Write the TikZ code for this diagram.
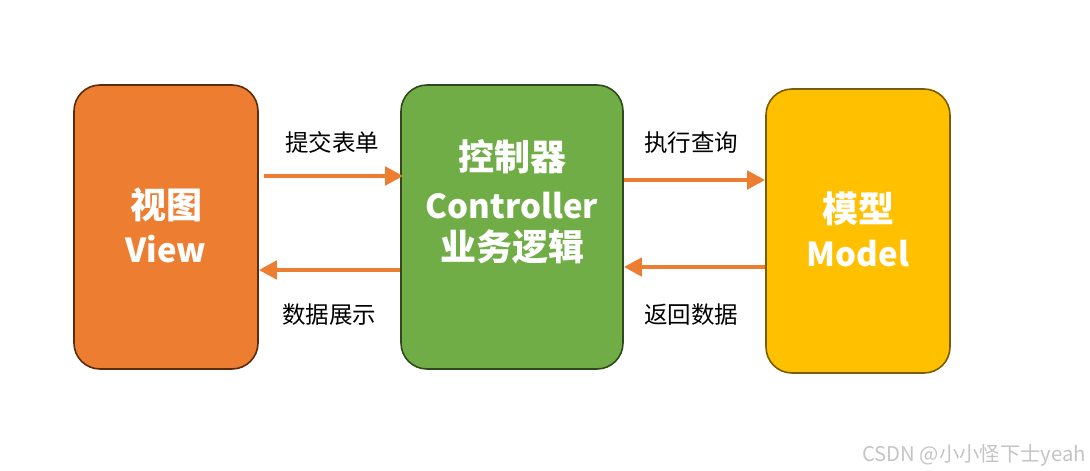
\documentclass[tikz,border=0pt]{standalone}
\usepackage{fontspec}
\setmainfont{Noto Sans CJK SC}
\usetikzlibrary{arrows.meta}
\definecolor{vfill}{HTML}{ED7D31}
\definecolor{vline}{HTML}{5B2C0C}
\definecolor{cfill}{HTML}{70AD47}
\definecolor{cline}{HTML}{2E4A1C}
\definecolor{mfill}{HTML}{FFC000}
\definecolor{mline}{HTML}{7A5C00}
\definecolor{arrc}{HTML}{ED7D31}
\definecolor{wm}{HTML}{C4C4C4}
\newcommand{\zh}[1]{{\fontsize{36}{44}\selectfont #1}}
\newcommand{\en}[1]{{\fontsize{33}{44}\selectfont #1}}
\tikzset{
  box/.style={rounded corners=26pt, line width=1.6pt, inner sep=0pt},
  boxtext/.style={align=center, text=white, font=\fontsize{33}{44}\selectfont\bfseries, inner sep=0pt},
  arr/.style={draw=arrc, line width=4.5pt, -{Triangle[length=18pt,width=18pt]}},
  lbl/.style={font=\fontsize{23.5}{26}\selectfont, text=black, inner sep=0pt},
}
\begin{document}
\begin{tikzpicture}[x=1pt,y=-1pt]
\useasboundingbox (0,0) rectangle (1090,471);
\node[box, fill=vfill, draw=vline, minimum width=184pt, minimum height=284pt] (V) at (166,227) {};
\node[box, fill=cfill, draw=cline, minimum width=222pt, minimum height=284pt] (C) at (512,227) {};
\node[box, fill=mfill, draw=mline, minimum width=184pt, minimum height=284pt] (M) at (858,231) {};
\node[boxtext] (Vt) at (166,225) {\zh{视图}\\\en{View}};
\node[boxtext] (Ct) at (512,202) {\zh{控制器}\\[4pt]\en{Controller}\\[-2pt]\zh{业务逻辑}};
\node[boxtext] (Mt) at (858,229) {\zh{模型}\\\en{Model}};
\draw[arr] ([xshift=5pt,yshift=51pt]V.east) -- ([xshift=3pt,yshift=51pt]C.west);
\draw[arr] ([yshift=-43pt]C.west) -- ([yshift=-43pt]V.east);
\draw[arr] ([yshift=47pt]C.east) -- ([yshift=51pt]M.west);
\draw[arr] ([yshift=-36pt]M.west) -- ([yshift=-40pt]C.east);
\node[lbl] (l1) at (332,142) {提交表单};
\node[lbl] (l2) at (329,315) {数据展示};
\node[lbl] (l3) at (691,143) {执行查询};
\node[lbl] (l4) at (691,315) {返回数据};
\node[anchor=east, text=wm, font=\fontsize{20.3}{22}\selectfont, inner sep=0pt] (wmk) at (1086,455) {CSDN @小小怪下士yeah};
\end{tikzpicture}
\end{document}
